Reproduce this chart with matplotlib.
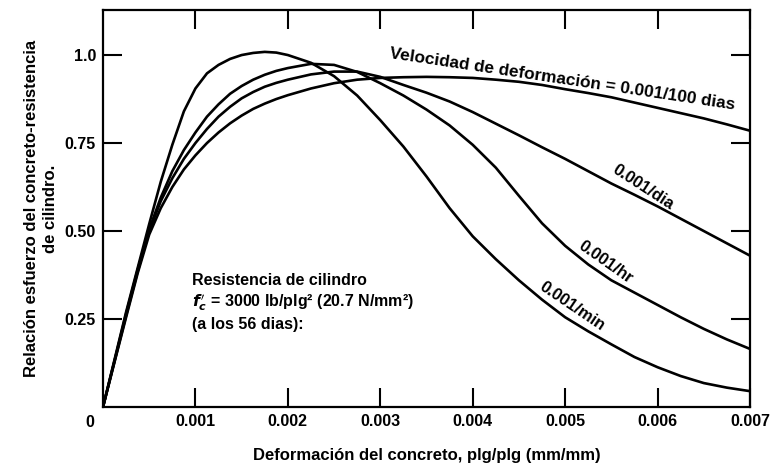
import matplotlib
matplotlib.use("Agg")
import matplotlib.pyplot as plt

# ---------------- data ----------------
strain = [0, 0.000125, 0.00025, 0.000375, 0.0005, 0.000625, 0.00075, 0.000875,
          0.001, 0.001125, 0.00125, 0.001375, 0.0015, 0.001625, 0.00175, 0.001875,
          0.002, 0.00225, 0.0025, 0.00275, 0.003, 0.00325, 0.0035, 0.00375,
          0.004, 0.00425, 0.0045, 0.00475, 0.005, 0.00525, 0.0055, 0.00575,
          0.006, 0.00625, 0.0065, 0.00675, 0.007]

ratio_min = [0, 0.135, 0.27, 0.395, 0.52, 0.64, 0.745, 0.84,
             0.905, 0.948, 0.972, 0.989, 1.0, 1.006, 1.009, 1.007,
             1.0, 0.978, 0.94, 0.885, 0.815, 0.74, 0.655, 0.565,
             0.485, 0.42, 0.36, 0.305, 0.255, 0.215, 0.178, 0.142,
             0.113, 0.088, 0.068, 0.055, 0.045]

ratio_hr = [0, 0.132, 0.265, 0.39, 0.505, 0.595, 0.67, 0.73,
            0.78, 0.825, 0.86, 0.89, 0.912, 0.93, 0.944, 0.955,
            0.963, 0.975, 0.972, 0.952, 0.92, 0.885, 0.845, 0.80,
            0.745, 0.68, 0.60, 0.522, 0.458, 0.405, 0.36, 0.325,
            0.29, 0.255, 0.222, 0.192, 0.165]

ratio_dia = [0, 0.13, 0.26, 0.385, 0.50, 0.585, 0.65, 0.705,
             0.75, 0.79, 0.825, 0.853, 0.877, 0.895, 0.91, 0.921,
             0.93, 0.945, 0.953, 0.953, 0.938, 0.915, 0.893, 0.868,
             0.838, 0.805, 0.772, 0.738, 0.705, 0.67, 0.635, 0.603,
             0.57, 0.535, 0.50, 0.465, 0.43]

ratio_100d = [0, 0.128, 0.255, 0.38, 0.49, 0.565, 0.625, 0.675,
              0.715, 0.75, 0.78, 0.806, 0.828, 0.847, 0.862, 0.875,
              0.886, 0.905, 0.92, 0.93, 0.935, 0.937, 0.938, 0.937,
              0.935, 0.93, 0.924, 0.915, 0.903, 0.892, 0.88, 0.865,
              0.85, 0.835, 0.82, 0.803, 0.785]

curve_labels = ["0.001/min", "0.001/hr", "0.001/dia",
                "Velocidad de deformación = 0.001/100 dias"]

xtick_vals = [0.001, 0.002, 0.003, 0.004, 0.005, 0.006, 0.007]
xtick_text = ["0.001", "0.002", "0.003", "0.004", "0.005", "0.006", "0.007"]
ytick_vals = [0.25, 0.50, 0.75, 1.0]
ytick_text = ["0.25", "0.50", "0.75", "1.0"]

# ---------------- figure ----------------
plt.rcParams["font.family"] = ["Liberation Sans", "DejaVu Sans"]
plt.rcParams["font.weight"] = "bold"
FS = 12

W, H = 772, 471
fig = plt.figure(figsize=(W / 100, H / 100), dpi=100)
ax = fig.add_axes([103 / W, 1 - 407 / H, (750 - 103) / W, (407 - 10) / H])

for ys in (ratio_min, ratio_hr, ratio_dia, ratio_100d):
    ax.plot(strain, ys, color="black", lw=1.9, solid_capstyle="round",
            solid_joinstyle="round")

ax.set_xlim(0, 0.007)
ax.set_ylim(0, 1.128)

for s in ax.spines.values():
    s.set_linewidth(1.6)

ax.set_xticks(xtick_vals)
ax.set_xticklabels(xtick_text)
ax.set_yticks(ytick_vals)
ax.set_yticklabels(ytick_text)
ax.tick_params(direction="in", length=14, width=1.5, top=True, right=True,
               labelsize=FS - 0.5, pad=5)
for lab in ax.get_xticklabels() + ax.get_yticklabels():
    lab.set_fontweight("bold")

ax.text(-0.00014, -0.045, "0", fontsize=FS - 0.5, fontweight="bold",
        ha="center", va="center", clip_on=False)

ax.set_xlabel("Deformación del concreto, plg/plg (mm/mm)", fontsize=FS,
              fontweight="bold", labelpad=14)
ax.set_ylabel("Relación esfuerzo del concreto-resistencia\nde cilindro.",
              fontsize=FS, fontweight="bold", labelpad=5, linespacing=1.35)

# curve labels
ax.text(0.00508, 0.285, curve_labels[0], rotation=-34, fontsize=FS,
        fontweight="bold", ha="center", va="center", rotation_mode="anchor")
ax.text(0.00544, 0.41, curve_labels[1], rotation=-35, fontsize=FS,
        fontweight="bold", ha="center", va="center", rotation_mode="anchor")
ax.text(0.00584, 0.625, curve_labels[2], rotation=-33, fontsize=FS,
        fontweight="bold", ha="center", va="center", rotation_mode="anchor")
ax.text(0.00497, 0.93, curve_labels[3], rotation=-8.5, fontsize=FS + 0.4,
        fontweight="bold", ha="center", va="center", rotation_mode="anchor")

# strength note
x0 = (192 - 103) / 92.4 * 0.001
ax.text(x0, (406 - 279) / 352, "Resistencia de cilindro", fontsize=FS - 0.5,
        fontweight="bold", ha="left", va="center")
ax.text(x0, (406 - 301) / 352,
        r"$f_c^{\prime}$ = 3000 lb/plg² (20.7 N/mm²)", fontsize=FS - 0.5,
        fontweight="bold", ha="left", va="center")
ax.text(x0, (406 - 323) / 352, "(a los 56 dias):", fontsize=FS - 0.5,
        fontweight="bold", ha="left", va="center")

fig.savefig("out.png", dpi=100)
